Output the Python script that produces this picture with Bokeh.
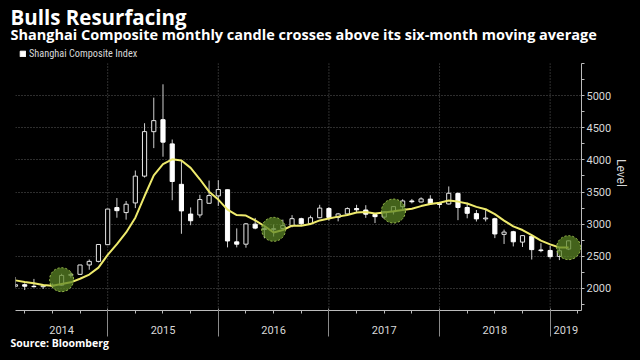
from bokeh.plotting import figure
from bokeh.models import (Range1d, FixedTicker, LinearAxis, Title, Legend,
                          LegendItem, ColumnDataSource)
from bokeh.embed import file_html
from bokeh.resources import INLINE

# ---------------- data ----------------
months = [
    "2014-02", "2014-03", "2014-04", "2014-05", "2014-06", "2014-07", "2014-08",
    "2014-09", "2014-10", "2014-11", "2014-12",
    "2015-01", "2015-02", "2015-03", "2015-04", "2015-05", "2015-06", "2015-07",
    "2015-08", "2015-09", "2015-10", "2015-11", "2015-12",
    "2016-01", "2016-02", "2016-03", "2016-04", "2016-05", "2016-06", "2016-07",
    "2016-08", "2016-09", "2016-10", "2016-11", "2016-12",
    "2017-01", "2017-02", "2017-03", "2017-04", "2017-05", "2017-06", "2017-07",
    "2017-08", "2017-09", "2017-10", "2017-11", "2017-12",
    "2018-01", "2018-02", "2018-03", "2018-04", "2018-05", "2018-06", "2018-07",
    "2018-08", "2018-09", "2018-10", "2018-11", "2018-12",
    "2019-01", "2019-02",
]
opens = [
    2033, 2057, 2032, 2026, 2039, 2050, 2202, 2218, 2364, 2420, 2680,
    3258, 3180, 3330, 3748, 4440, 4627, 4250, 3620, 3157, 3143, 3325, 3440,
    3536, 2724, 2688, 3000, 2930, 2915, 2932, 2975, 3085, 3010, 3100, 3244,
    3105, 3159, 3243, 3220, 3150, 3110, 3193, 3273, 3361, 3345, 3390, 3320,
    3314, 3478, 3259, 3164, 3082, 3084, 2841, 2882, 2720, 2811, 2598, 2590,
    2497, 2612,
]
highs = [
    2177, 2079, 2147, 2062, 2076, 2227, 2248, 2365, 2450, 2683, 3239,
    3406, 3360, 3835, 4572, 4970, 5178, 4318, 3990, 3260, 3457, 3678, 3684,
    3538, 2934, 3018, 3097, 2960, 2993, 3070, 3140, 3100, 3134, 3301, 3265,
    3174, 3261, 3301, 3295, 3157, 3200, 3277, 3387, 3392, 3418, 3450, 3325,
    3587, 3495, 3334, 3220, 3219, 3100, 2915, 2896, 2827, 2819, 2703, 2666,
    2630, 2745,
]
lows = [
    2013, 1974, 2014, 1991, 2010, 2040, 2166, 2212, 2290, 2405, 2674,
    3100, 3070, 3250, 3726, 4184, 4050, 3373, 2850, 2983, 3100, 3322, 3284,
    2638, 2638, 2633, 2920, 2780, 2807, 2932, 2951, 2969, 2990, 3092, 3055,
    3044, 3137, 3172, 3098, 3017, 3090, 3150, 3224, 3323, 3339, 3302, 3254,
    3306, 3062, 3091, 3041, 3042, 2782, 2691, 2653, 2644, 2449, 2562, 2463,
    2440, 2596,
]
closes = [
    2056, 2033, 2026, 2039, 2048, 2201, 2217, 2364, 2420, 2683, 3235,
    3210, 3310, 3748, 4441, 4612, 4277, 3664, 3206, 3053, 3383, 3445, 3539,
    2738, 2688, 3004, 2938, 2917, 2930, 2979, 3085, 3005, 3100, 3250, 3104,
    3159, 3242, 3223, 3155, 3117, 3192, 3273, 3361, 3349, 3393, 3317, 3307,
    3481, 3259, 3169, 3082, 3095, 2847, 2876, 2725, 2821, 2603, 2588, 2494,
    2585, 2740,
]
moving_avg_6m = [
    2124, 2100, 2081, 2051, 2039, 2067, 2094, 2149, 2215, 2322, 2520,
    2688, 2870, 3101, 3438, 3759, 3933, 4009, 3991, 3876, 3699, 3505, 3382,
    3227, 3141, 3133, 3059, 2971, 2869, 2909, 2976, 2976, 3003, 3058, 3087,
    3117, 3143, 3180, 3189, 3167, 3181, 3200, 3220, 3241, 3281, 3314, 3333,
    3368, 3351, 3321, 3269, 3232, 3156, 3055, 2966, 2908, 2828, 2743, 2685,
    2636, 2638,
]
cross_months = ["2014-07", "2016-06", "2017-07", "2019-02"]
cross_levels = [2135, 2919, 3204, 2634]

year_labels = ["2014", "2015", "2016", "2017", "2018", "2019"]
level_ticks = [2000, 2500, 3000, 3500, 4000, 4500, 5000]
level_minor = [1750, 2250, 2750, 3250, 3750, 4250, 4750, 5250, 5500]

# ---------------- helpers ----------------
def month_pos(m):
    yr, mo = m.split("-")
    return (int(yr) - 2014) * 12 + int(mo)

X_LO, X_HI = 2.0, 63.4
Y_LO, Y_AXIS_TOP, Y_HI = 1655, 5500, 5938
xs = [month_pos(m) for m in months]
is_up = [c >= o for o, c in zip(opens, closes)]

def pick(vals, flag):
    return [v for v, u in zip(vals, is_up) if u == flag]

src_up = ColumnDataSource(dict(x=pick(xs, True), o=pick(opens, True), c=pick(closes, True)))
src_dn = ColumnDataSource(dict(x=pick(xs, False), o=pick(opens, False), c=pick(closes, False)))

year_starts = [(int(y) - 2014) * 12 for y in year_labels]
boundaries = [s for s in year_starts if X_LO < s < X_HI]
year_mids = [(max(s, X_LO) + min(s + 12, X_HI)) / 2 for s in year_starts]
quarter_ticks = [q for q in range(3, 64, 3)]

TICK_FONT = "Roboto"
LEGEND_FONT = "Liberation Sans Narrow, Roboto Condensed, Roboto"
TITLE_FONT = "Open Sans"
GRID = "#5c5c5c"
AXIS = "#bbbbbb"
LABEL = "#d8d8d8"

# ---------------- figure ----------------
p = figure(frame_width=566, frame_height=275,
           x_range=Range1d(X_LO, X_HI), y_range=Range1d(Y_LO, Y_HI),
           output_backend="svg", toolbar_location=None,
           y_axis_location="right",
           min_border_left=15, min_border_right=59,
           min_border_top=0, min_border_bottom=0,
           background_fill_color="black", border_fill_color="black",
           outline_line_color=None)

# grids
p.ygrid.ticker = FixedTicker(ticks=level_ticks)
p.ygrid.grid_line_color = GRID
p.ygrid.grid_line_dash = "1 2"
p.xgrid.visible = False
p.segment(x0=boundaries, y0=[Y_LO] * len(boundaries), x1=boundaries,
          y1=[Y_AXIS_TOP] * len(boundaries), line_color=GRID, line_dash="1 2",
          line_width=1)

# candles
p.segment(x0=xs, y0=lows, x1=xs, y1=highs, line_color="#cfcfcf", line_width=1)
p.vbar(x="x", width=0.45, top="c", bottom="o", source=src_up,
       fill_color="black", line_color="#e6e6e6", line_width=1)
r_dn = p.vbar(x="x", width=0.45, top="o", bottom="c", source=src_dn,
              fill_color="white", line_color="white", line_width=1)

# moving average
p.line(xs, moving_avg_6m, line_color="#eeea6c", line_width=2)

# crossing markers
p.scatter([month_pos(m) for m in cross_months], cross_levels, size=24,
          marker="circle", fill_color="#5a8424", fill_alpha=0.74,
          line_color="#a6c853", line_dash="2 2", line_width=1)

# x axis (year labels + quarter ticks)
xa = p.xaxis[0]
xa.ticker = FixedTicker(ticks=year_mids, minor_ticks=quarter_ticks)
xa.major_label_overrides = {m: y for m, y in zip(year_mids, year_labels)}
xa.major_tick_line_color = None
xa.major_tick_out = 3
xa.major_tick_in = 0
xa.minor_tick_out = 3
xa.minor_tick_in = 0
xa.minor_tick_line_color = AXIS
xa.axis_line_color = AXIS
xa.major_label_standoff = 12
xa.major_label_text_color = LABEL
xa.major_label_text_font = TICK_FONT
xa.major_label_text_font_size = "11px"

# year dividers below the axis
xd = LinearAxis(ticker=FixedTicker(ticks=boundaries, minor_ticks=[]),
                axis_line_color=None, major_tick_in=28, major_tick_out=0,
                major_tick_line_color="#8a8a8a", minor_tick_line_color=None,
                major_label_overrides={b: "" for b in boundaries},
                major_label_text_font_size="1px", major_label_standoff=0)
p.add_layout(xd, "below")

# right y axis
ya = p.yaxis[0]
ya.bounds = (Y_LO, Y_AXIS_TOP)
ya.ticker = FixedTicker(ticks=level_ticks, minor_ticks=level_minor)
ya.axis_line_color = AXIS
ya.major_tick_line_color = AXIS
ya.minor_tick_line_color = AXIS
ya.major_tick_out = 3
ya.major_tick_in = 0
ya.minor_tick_out = 3
ya.minor_tick_in = 0
ya.major_label_standoff = 2
ya.major_label_text_color = LABEL
ya.major_label_text_font = TICK_FONT
ya.major_label_text_font_size = "11px"
ya.axis_label = "Level"
ya.axis_label_text_color = LABEL
ya.axis_label_text_font = TICK_FONT
ya.axis_label_text_font_style = "normal"
ya.axis_label_text_font_size = "12px"
ya.axis_label_standoff = 0

# legend (top-left, above the price area)
legend = Legend(items=[LegendItem(label="Shanghai Composite Index", renderers=[r_dn])],
                location=(4, 250), orientation="horizontal",
                margin=0, padding=0, spacing=0,
                glyph_width=7, glyph_height=7, label_height=13,
                label_standoff=3, label_text_font=LEGEND_FONT,
                label_text_font_size="10.3px", label_text_color=LABEL,
                background_fill_alpha=0, border_line_color=None)
p.add_layout(legend)

p.add_layout(Title(text="Shanghai Composite monthly candle crosses above its six-month moving average",
                   text_font=TITLE_FONT, text_font_style="bold", text_font_size="14.5px",
                   text_color="white", align="left", offset=-5, standoff=-16), "above")
p.add_layout(Title(text="Bulls Resurfacing",
                   text_font=TITLE_FONT, text_font_style="bold", text_font_size="20.5px",
                   text_color="white", align="left", offset=-5, standoff=0), "above")

p.add_layout(Title(text="Source: Bloomberg",
                   text_font=TITLE_FONT, text_font_style="bold", text_font_size="10.5px",
                   text_color="white", align="left", offset=-5, standoff=-2,
                   vertical_align="top"), "below")

page_style = "{% block postamble %}<style>html, body { background: #000; }</style>{% endblock %}"
open("out.html", "w").write(file_html(p, INLINE, template=page_style))
